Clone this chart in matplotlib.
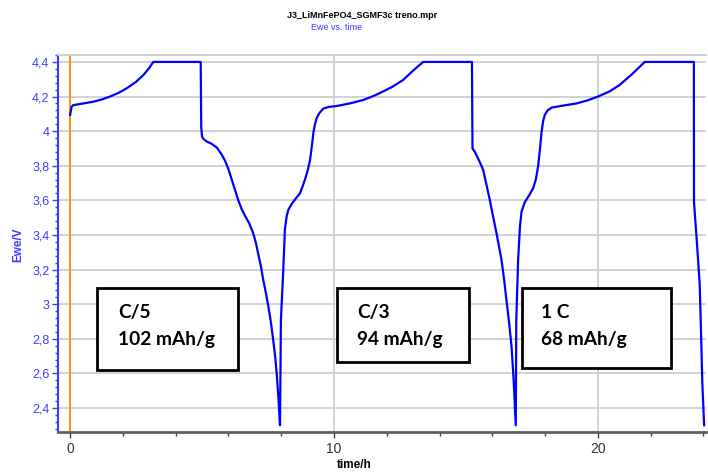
import matplotlib
matplotlib.use("Agg")
import matplotlib.pyplot as plt
from matplotlib.patches import Rectangle
from matplotlib.ticker import MultipleLocator, FuncFormatter

# ---- data (time in h, Ewe in V) ----
time_h = [0.0, 0.057, 0.114, 0.5, 0.88, 1.2, 1.515, 1.85, 2.15, 2.5, 2.78, 3.0, 3.155, 4.95,
          4.97, 5.0, 5.05, 5.18, 5.35, 5.56, 5.72, 5.87, 6.0, 6.125, 6.25, 6.375, 6.5, 6.63, 6.78, 6.94,
          7.04, 7.13, 7.23, 7.32, 7.42, 7.51, 7.61, 7.70, 7.77, 7.83, 7.89, 7.955,
          7.99, 8.08, 8.14, 8.21, 8.27, 8.40, 8.55, 8.71, 8.81, 8.90, 9.0, 9.09, 9.16, 9.22, 9.28, 9.345,
          9.45, 9.595, 9.8, 10.10, 10.6, 11.11, 11.45, 11.74, 12.2, 12.625, 13.0, 13.38, 15.23,
          15.25, 15.34, 15.5, 15.655, 15.78, 15.91, 16.04, 16.16, 16.35, 16.45, 16.54, 16.64, 16.73, 16.81, 16.89,
          16.91, 16.98, 17.05, 17.11, 17.235, 17.4, 17.55, 17.65, 17.74, 17.81, 17.87, 17.93, 17.99, 18.1,
          18.25, 18.7, 19.19, 19.6, 20.01, 20.45, 20.83, 21.3, 21.78, 23.64,
          23.645, 23.74, 23.86, 23.93, 23.96, 24.03]
ewe_v = [4.094, 4.14, 4.15, 4.16, 4.17, 4.183, 4.20, 4.222, 4.248, 4.285, 4.325, 4.365, 4.40, 4.40,
         4.02, 3.97, 3.955, 3.94, 3.928, 3.905, 3.87, 3.83, 3.78, 3.72, 3.66, 3.60, 3.55, 3.51, 3.47, 3.41,
         3.355, 3.29, 3.22, 3.14, 3.065, 2.99, 2.895, 2.79, 2.70, 2.60, 2.47, 2.30,
         2.91, 3.20, 3.43, 3.51, 3.545, 3.58, 3.61, 3.64, 3.68, 3.72, 3.77, 3.83, 3.91, 3.99, 4.04, 4.075,
         4.105, 4.13, 4.14, 4.145, 4.16, 4.18, 4.20, 4.22, 4.255, 4.296, 4.35, 4.40, 4.40,
         3.90, 3.88, 3.83, 3.776, 3.69, 3.60, 3.50, 3.41, 3.256, 3.14, 3.02, 2.89, 2.755, 2.56, 2.30,
         2.91, 3.256, 3.45, 3.535, 3.59, 3.63, 3.67, 3.72, 3.80, 3.90, 3.997, 4.06, 4.094, 4.12,
         4.136, 4.148, 4.16, 4.177, 4.20, 4.23, 4.267, 4.33, 4.40, 4.40,
         3.59, 3.39, 3.12, 2.735, 2.545, 2.30]

box_rates = ["C/5", "C/3", "1 C"]
box_capacities = ["102 mAh/g", "94 mAh/g", "68 mAh/g"]

title = "J3_LiMnFePO4_SGMF3c treno.mpr"
subtitle = "Ewe vs. time"
xlabel = "time/h"
ylabel = "Ewe/V"

# ---- layout ----
W, H = 708, 474
fig = plt.figure(figsize=(W / 100, H / 100), dpi=100)
ax = fig.add_axes([57.7 / W, 1 - 432 / H, (706 - 57.7) / W, (432 - 55) / H])

BLUE = "#0000ff"
TICKBLUE = "#3b3bff"
GRID = "#cfcfcf"

ax.set_xlim(-0.47, 24.1)
ax.set_ylim(2.261, 4.44)

ax.yaxis.set_major_locator(MultipleLocator(0.2))
ax.yaxis.set_minor_locator(MultipleLocator(0.04))
ax.xaxis.set_major_locator(MultipleLocator(10))
ax.xaxis.set_minor_locator(MultipleLocator(2))

def fmt(v, pos):
    s = ("%.1f" % v)
    if s.endswith(".0"):
        s = s[:-2]
    return s.replace(".", ",")

ax.yaxis.set_major_formatter(FuncFormatter(fmt))

ax.grid(True, which="major", color=GRID, lw=1.3, zorder=0)
ax.set_axisbelow(True)

ax.spines["right"].set_visible(False)
ax.spines["top"].set_color(GRID)
ax.spines["top"].set_linewidth(1.3)
ax.spines["left"].set_color(TICKBLUE)
ax.spines["left"].set_linewidth(1.5)
ax.spines["bottom"].set_color("#606060")
ax.spines["bottom"].set_linewidth(2)

ax.tick_params(axis="y", which="major", length=4, width=1, color=TICKBLUE,
               labelcolor=TICKBLUE, labelsize=9, pad=2)
ax.tick_params(axis="y", which="minor", length=2, width=1, color=TICKBLUE)
ax.tick_params(axis="x", which="major", length=4, width=1, color="#404040",
               labelcolor="#333333", labelsize=10, pad=3)
ax.tick_params(axis="x", which="minor", length=3, width=1, color="#404040")
for lab in ax.get_xticklabels() + ax.get_yticklabels():
    lab.set_fontfamily("Liberation Sans")

ax.axvline(0, color="#ff8c00", lw=1.3, zorder=2)
ax.plot(time_h, ewe_v, color=BLUE, lw=1.6, zorder=3)

# annotation boxes (data coords)
box_left = [1.03, 10.11, 17.13]
box_right = [6.35, 15.11, 22.79]
box_bottom = [2.62, 2.668, 2.63]
box_top = 3.092
text_x = [1.83, 10.87, 17.84]
for i in range(3):
    ax.add_patch(Rectangle((box_left[i], box_bottom[i]), box_right[i] - box_left[i],
                           box_top - box_bottom[i], facecolor="white", edgecolor="black",
                           lw=2, zorder=4))
    ax.text(text_x[i], 2.949, box_rates[i], fontsize=13.8, fontweight="bold",
            family="Lato", va="center", ha="left", zorder=5)
    ax.text(text_x[i], 2.793, box_capacities[i], fontsize=13.8, fontweight="bold",
            family="Lato", va="center", ha="left", zorder=5)

fig.text(362 / W, 1 - 15 / H, title, fontsize=6.5, fontweight="bold",
         family="Liberation Sans", ha="center", va="center")
fig.text(337 / W, 1 - 28 / H, subtitle, fontsize=6.5, color=TICKBLUE,
         family="Liberation Sans", ha="center", va="center")
fig.text(354 / W, 1 - 465 / H, xlabel, fontsize=8.5, fontweight="bold",
         family="Liberation Sans", ha="center", va="center")
fig.text(18 / W, 1 - 245 / H, ylabel, fontsize=8.5, fontweight="bold", color=TICKBLUE,
         family="Liberation Sans", ha="center", va="center", rotation=90)

fig.savefig("out.png", dpi=100)
